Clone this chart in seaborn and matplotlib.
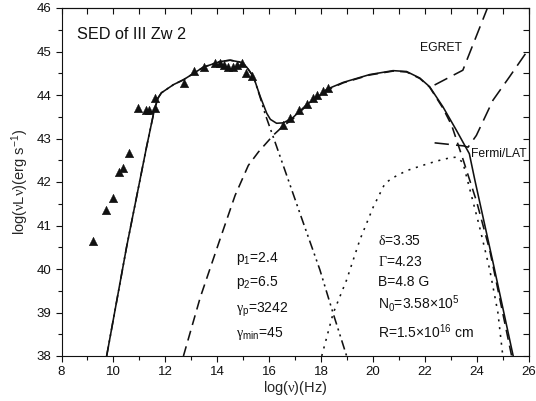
import matplotlib
matplotlib.use("Agg")
import matplotlib.pyplot as plt
import seaborn as sns
import pandas as pd
from matplotlib.ticker import MultipleLocator

# Observed SED of III Zw 2 (log frequency, log nuL_nu)
obs_lognu = [9.20, 9.72, 9.97, 10.22, 10.37, 10.60, 10.96, 11.26, 11.38, 11.59,
             11.62, 12.72, 13.12, 13.50, 13.92, 14.09, 14.28, 14.43, 14.60, 14.76,
             14.95, 15.12, 15.36, 16.55, 16.81, 17.17, 17.45, 17.70, 17.86, 18.06,
             18.28]
obs_logL = [40.65, 41.35, 41.64, 42.24, 42.33, 42.67, 43.69, 43.65, 43.65, 43.92,
            43.70, 44.28, 44.55, 44.65, 44.74, 44.73, 44.69, 44.65, 44.65, 44.70,
            44.73, 44.51, 44.43, 43.30, 43.46, 43.65, 43.80, 43.94, 44.01, 44.09,
            44.15]

# Total model (solid)
total_lognu = [9.74, 10.51, 11.28, 11.58, 11.72, 11.85, 12.32, 12.70, 13.47, 14.12,
               14.50, 14.95, 15.14, 15.40, 15.65, 15.91, 16.05, 16.29, 16.55, 16.90,
               17.47, 17.90, 18.22, 18.86, 19.88, 20.78, 21.30, 21.81, 22.19, 22.70,
               23.22, 23.72, 23.93, 24.64, 25.41]
total_logL = [38.00, 40.51, 42.81, 43.66, 43.93, 44.05, 44.24, 44.35, 44.64, 44.77,
              44.80, 44.75, 44.64, 44.42, 43.98, 43.58, 43.44, 43.35, 43.36, 43.47,
              43.79, 43.96, 44.13, 44.29, 44.47, 44.56, 44.54, 44.39, 44.19, 43.73,
              43.19, 42.65, 42.05, 40.13, 38.00]

# Synchrotron component (dash-dot-dot)
syn_lognu = [9.74, 10.51, 11.28, 11.58, 11.72, 11.85, 12.32, 12.70, 13.47, 14.12,
             14.50, 14.95, 15.14, 15.40, 15.65, 15.85, 16.23, 16.74, 17.19, 17.96,
             18.47, 18.99]
syn_logL = [38.00, 40.51, 42.81, 43.66, 43.93, 44.05, 44.24, 44.35, 44.64, 44.77,
            44.80, 44.75, 44.64, 44.42, 43.96, 43.56, 42.92, 42.05, 41.28, 39.98,
            38.98, 38.00]

# SSC component (dashed)
ssc_lognu = [12.70, 13.35, 14.09, 14.69, 15.20, 15.59, 16.17, 16.55, 16.90, 17.47,
             18.22, 18.86, 19.88, 20.78, 21.30, 21.81, 22.19, 22.70, 23.04, 23.46,
             24.00, 24.51, 25.35]
ssc_logL = [38.00, 39.35, 40.65, 41.69, 42.38, 42.69, 43.08, 43.29, 43.44, 43.77,
            44.11, 44.28, 44.46, 44.55, 44.53, 44.38, 44.18, 43.70, 43.30, 42.55,
            41.55, 40.42, 38.00]

# External Compton component (dotted)
ec_lognu = [18.03, 18.47, 18.99, 19.50, 20.02, 20.47, 20.78, 21.30, 21.80, 22.45,
            23.00, 23.22, 23.47, 23.73, 24.10, 24.50, 24.82, 25.01]
ec_logL = [38.00, 38.98, 39.75, 40.67, 41.43, 41.97, 42.10, 42.26, 42.36, 42.48,
           42.56, 42.57, 42.45, 41.85, 41.00, 40.00, 39.00, 38.00]

# Instrument sensitivity curves
egret_lognu = [22.38, 23.47, 24.55]
egret_logL = [44.23, 44.57, 46.20]
fermi_lognu = [22.38, 23.50, 23.67, 23.99, 24.63, 25.27, 26.00]
fermi_logL = [42.90, 42.83, 42.80, 43.07, 43.88, 44.42, 45.05]

# Fit parameters
params_left = [r"p$_1$=2.4", r"p$_2$=6.5", r"$\mathrm{\gamma}_p$=3242",
               r"$\mathrm{\gamma}_{min}$=45"]
params_right = [r"$\mathrm{\delta}$=3.35", r"$\mathrm{\Gamma}$=4.23", "B=4.8 G",
                r"N$_0$=3.58$\times$10$^5$", r"R=1.5$\times$10$^{16}$ cm"]

sns.set_style("ticks")
plt.rcParams["font.family"] = ["Liberation Sans", "DejaVu Sans"]
plt.rcParams["mathtext.fontset"] = "custom"
plt.rcParams["mathtext.rm"] = "Liberation Serif"
plt.rcParams["mathtext.it"] = "Liberation Sans"
plt.rcParams["mathtext.default"] = "regular"
plt.rcParams["axes.linewidth"] = 0.8

fig = plt.figure(figsize=(5.36, 4.01), dpi=100)
ax = fig.add_axes([61.5 / 536, 1 - 356 / 401, 467 / 536, 348 / 401])

lw = 1.15
ink = "#111111"

def curve(x, y, dashes, cap="butt"):
    df = pd.DataFrame({"x": x, "y": y})
    line = sns.lineplot(data=df, x="x", y="y", sort=False, estimator=None,
                        color=ink, lw=lw, ax=ax)
    ln = line.lines[-1]
    if dashes is not None:
        ln.set_dashes(dashes)
    ln.set_dash_capstyle(cap)
    return ln

curve(ssc_lognu, ssc_logL, (6.3, 3.8))
curve(ec_lognu, ec_logL, (1.3, 3.6))
curve(syn_lognu, syn_logL, (6.0, 2.6, 1.3, 2.6, 1.3, 2.6))
curve(egret_lognu, egret_logL, (9.0, 4.5))
curve(fermi_lognu, fermi_logL, (9.0, 4.5))
curve(total_lognu, total_logL, None)

obs = pd.DataFrame({"lognu": obs_lognu, "logL": obs_logL})
sns.scatterplot(data=obs, x="lognu", y="logL", marker="^", s=38, color=ink,
                edgecolor=ink, linewidth=0.3, ax=ax, zorder=5)

ax.set_xlim(8, 26)
ax.set_ylim(38, 46)
ax.xaxis.set_major_locator(MultipleLocator(2))
ax.xaxis.set_minor_locator(MultipleLocator(1))
ax.yaxis.set_major_locator(MultipleLocator(1))
ax.yaxis.set_minor_locator(MultipleLocator(0.5))
ax.tick_params(which="major", direction="out", length=4.6, width=0.8,
               labelsize=9.5, pad=2.5, colors=ink)
ax.tick_params(which="minor", direction="out", length=3.0, width=0.8, colors=ink)

for sp in ax.spines.values():
    sp.set_visible(True)
    sp.set_color(ink)

# inward ticks on the top and right frame
top = ax.secondary_xaxis("top")
top.xaxis.set_major_locator(MultipleLocator(2))
top.xaxis.set_minor_locator(MultipleLocator(1))
top.tick_params(axis="x", which="both", direction="in", length=4.5, width=0.8,
                labeltop=False, labelbottom=False, colors=ink)
right = ax.secondary_yaxis("right")
right.yaxis.set_major_locator(MultipleLocator(1))
right.yaxis.set_minor_locator(MultipleLocator(0.5))
right.tick_params(axis="y", which="both", direction="in", length=4.5, width=0.8,
                  labelright=False, labelleft=False, colors=ink)

ax.set_xlabel(r"log($\mathrm{\nu}$)(Hz)", fontsize=10.5, labelpad=1)
ax.set_ylabel(r"log($\mathrm{\nu}$L$\mathrm{\nu}$)(erg s$^{-1}$)", fontsize=10.5,
              labelpad=4)

ax.text(8.6, 45.38, "SED of III Zw 2", fontsize=11.7, ha="left", va="center",
        color=ink)
ax.text(22.62, 45.08, "EGRET", fontsize=8.8, ha="center", va="center", color=ink)
ax.text(23.8, 42.65, "Fermi/LAT", fontsize=8.7, ha="left", va="center", color=ink)

left_y = [40.15, 39.62, 39.00, 38.43]
for s, yv in zip(params_left, left_y):
    ax.text(14.73, yv, s, fontsize=10, ha="left", va="baseline", color=ink)
right_y = [40.56, 40.08, 39.62, 39.10, 38.41]
for s, yv in zip(params_right, right_y):
    ax.text(20.19, yv, s, fontsize=10, ha="left", va="baseline", color=ink)

fig.savefig("out.png", dpi=100)
